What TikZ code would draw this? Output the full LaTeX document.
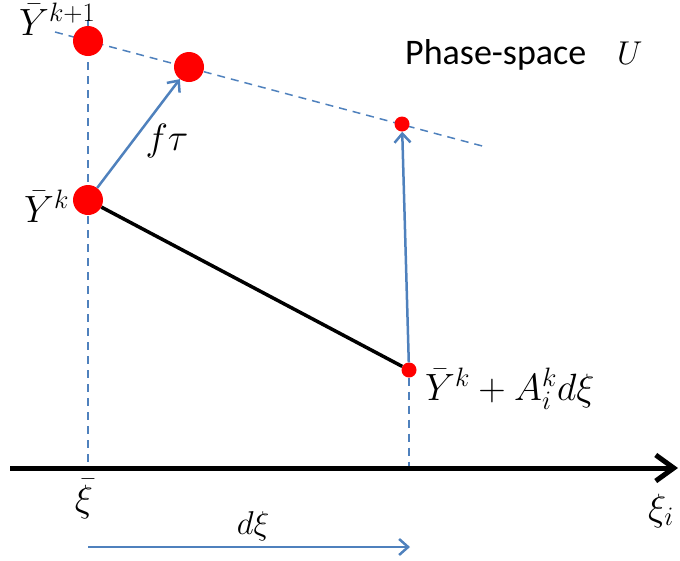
\RequirePackage{fix-cm}
\documentclass[tikz,border=0pt]{standalone}
\usepackage{fontspec}
\setmainfont{Carlito}
\usepackage{xcolor}
\usetikzlibrary{arrows.meta,backgrounds}
\definecolor{ofblue}{HTML}{4F81BD}
\definecolor{dotred}{HTML}{FF0000}

\begin{document}
\begin{tikzpicture}[x=1pt,y=-1pt,
  bigdot/.style={circle,fill=dotred,inner sep=0pt,minimum size=30pt},
  smalldot/.style={circle,fill=dotred,inner sep=0pt,minimum size=15pt},
  guide/.style={ofblue,line width=1.5pt,dash pattern=on 8pt off 6pt},
  barr/.style={ofblue,line width=2.5pt,-{Straight Barb[length=9pt,width=16pt]}},
  lbl/.style={font=\fontsize{38}{44}\selectfont,inner sep=0pt},
  sml/.style={font=\fontsize{33}{38}\selectfont,inner sep=0pt}]
\useasboundingbox (0,0) rectangle (680,560);
% points in phase space
\node[bigdot] (ynext) at (88,41) {};
\node[bigdot] (yshift) at (189,67) {};
\node[bigdot] (yk) at (88,200) {};
\node[smalldot] (ytop) at (402,124) {};
\node[smalldot] (ylin) at (409,370) {};
% axis
\coordinate (ax0) at (10,468);
\coordinate (ax1) at (678,468);
\draw[line width=5pt,-{Straight Barb[length=18pt,width=26pt]}] (ax0) -- (ax1);
% guides
\coordinate (gtop) at (88,20);
\coordinate (s0) at (55,32);
\coordinate (s1) at (486,147);
\begin{scope}[on background layer]
\draw[guide] (gtop) -- (gtop |- ax0);
\draw[guide] (ylin) -- (ylin |- ax0);
\draw[guide] (s0) -- (s1);
\end{scope}
% steps
\draw[line width=3.5pt] (yk) -- (ylin);
\draw[barr] (yk) -- (yshift);
\draw[barr] (ylin) -- (ytop);
\coordinate (d0) at (88,547);
\coordinate (d1) at (410,547);
\draw[barr] (d0) -- (d1);
% labels
\node[lbl,anchor=base west] (lnext) at (19,35) {$\bar{Y}^{k+1}$};
\node[lbl,anchor=base west] (lk) at (24,222) {$\bar{Y}^{k}$};
\node[lbl,anchor=base west] (llin) at (425,400) {$\bar{Y}^{k}+A_i^k d\xi$};
\node[lbl,anchor=base] (ltau) at (167,150) {$f\tau$};
\node[lbl,anchor=base] (lbar) at (84,511) {$\bar{\xi}$};
\node[lbl,anchor=base west] (lxi) at (648,520) {$\xi_i$};
\node[sml,anchor=base] (ldxi) at (253,534) {$d\xi$};
\node[font=\fontsize{36}{42}\selectfont,inner sep=0pt,anchor=base west] (lphase) at (405,64) {Phase-space};
\node[sml,anchor=base west] (lU) at (617,64) {$U$};
\end{tikzpicture}
\end{document}
